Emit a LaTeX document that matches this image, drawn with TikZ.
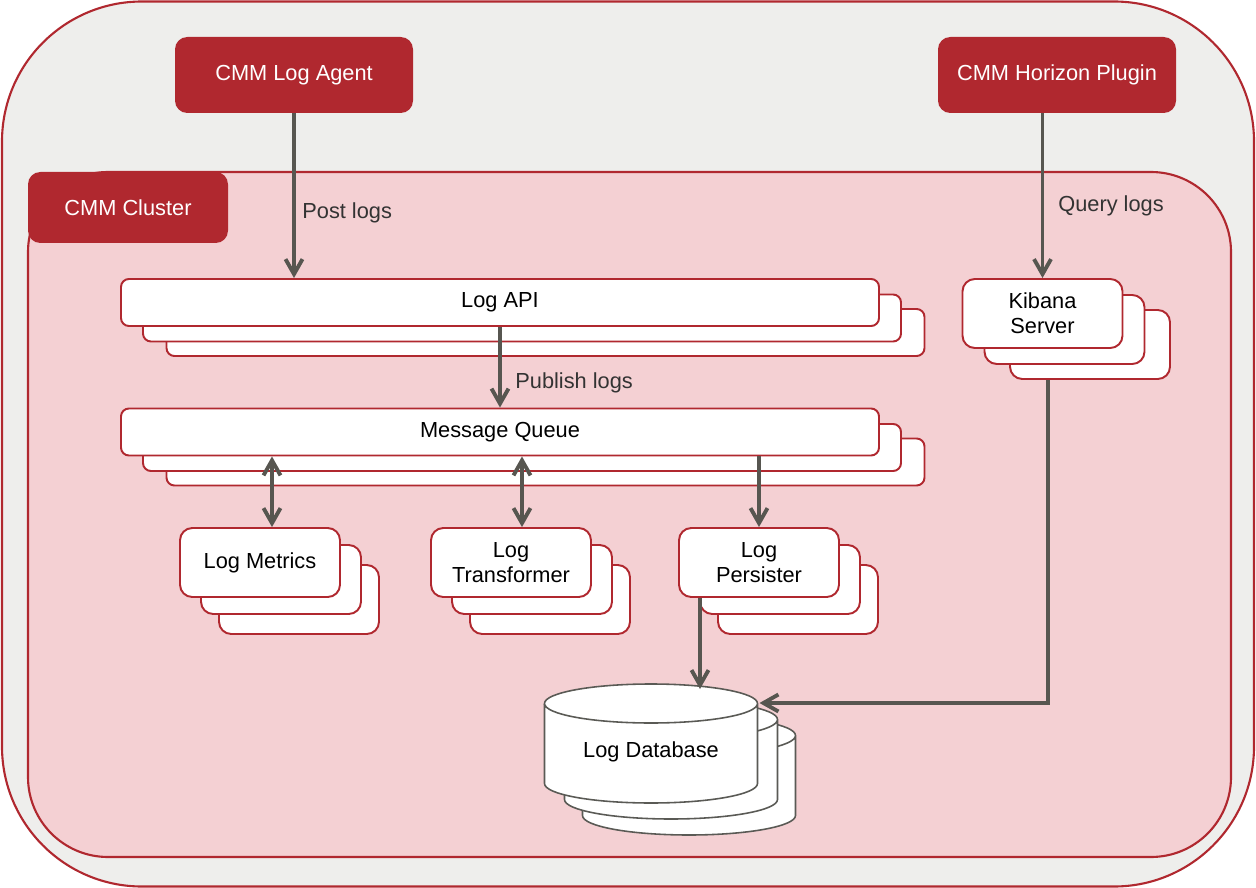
\documentclass[tikz,border=0pt]{standalone}
\usepackage{fontspec}
\setmainfont{Liberation Sans}
\usetikzlibrary{positioning,arrows.meta,calc}

\begin{document}
\begin{tikzpicture}[
    font=\fontsize{12.4}{14}\selectfont,
    container/.style={
        rectangle,
        draw=cmmred,
        line width=1.2pt
    },
    redlabel/.style={
        rectangle,
        rounded corners=7pt,
        fill=cmmred,
        text=white,
        align=center,
        minimum width=4.76cm,
        minimum height=1.52cm
    },
    stackbox/.style={
        rectangle,
        rounded corners=#1,
        draw=cmmred,
        fill=white,
        line width=1.1pt,
        align=center,
        inner sep=0pt
    },
    wide/.style={minimum width=15.16cm, minimum height=0.94cm},
    small/.style={minimum width=3.2cm, minimum height=1.38cm},
    dbline/.style={
        draw=dbgray,
        fill=white,
        line width=0.9pt
    },
    flow/.style={
        -{Straight Barb[length=3mm, width=3.4mm]},
        line width=2.2pt,
        draw=flowgray
    },
    biflow/.style={
        {Straight Barb[length=3mm, width=3.4mm]}-{Straight Barb[length=3mm, width=3.4mm]},
        line width=2.2pt,
        draw=flowgray
    },
    flowlabel/.style={
        inner sep=0pt,
        text=labelgray
    }
]

\definecolor{cmmred}{RGB}{176,40,47}
\definecolor{outergray}{RGB}{238,238,236}
\definecolor{clusterpink}{RGB}{244,208,211}
\definecolor{flowgray}{RGB}{87,86,80}
\definecolor{labelgray}{RGB}{51,51,51}
\definecolor{dbgray}{RGB}{90,90,85}

\useasboundingbox (0,0) rectangle (25.12,-17.76);

% Containers
\node[container, fill=outergray, rounded corners=2.8cm, minimum width=25.04cm, minimum height=17.7cm] (outer) at (12.56,-8.88) {};
\node[container, fill=clusterpink, rounded corners=1.6cm, minimum width=24.06cm, minimum height=13.7cm] (cluster) at (12.59,-10.29) {};

% Clients and cluster tag
\node[redlabel] (agent) at (5.88,-1.5) {CMM Log Agent};
\node[redlabel] (horizon) at (21.14,-1.5) {CMM Horizon Plugin};
\node[redlabel, minimum width=4cm, minimum height=1.42cm] (clustertag) at (2.56,-4.15) {CMM Cluster};

% API and queue stacks
\foreach \n/\dx/\dy in {3/0.91/-0.6, 2/0.44/-0.31}{
    \node[stackbox=4.5pt, wide] (api\n) at ($(10,-6.05)+(\dx,\dy)$) {};
    \node[stackbox=4.5pt, wide] (mq\n) at ($(10,-8.64)+(\dx,\dy)$) {};
}
\node[stackbox=4.5pt, wide] (api) at (10,-6.05) {Log API};
\node[stackbox=4.5pt, wide] (mq) at (10,-8.64) {Message Queue};

% Kibana stack
\foreach \n/\dx/\dy in {3/0.95/-0.62, 2/0.44/-0.32}
    \node[stackbox=7pt, small] (kibana\n) at ($(20.85,-6.27)+(\dx,\dy)$) {};
\node[stackbox=7pt, small] (kibana) at (20.85,-6.27) {Kibana\\Server};

% Service stacks
\foreach \n/\dx/\dy in {3/0.78/-0.74, 2/0.42/-0.34}{
    \node[stackbox=7pt, small] (metrics\n) at ($(5.2,-11.25)+(\dx,\dy)$) {};
    \node[stackbox=7pt, small] (transformer\n) at ($(10.22,-11.25)+(\dx,\dy)$) {};
    \node[stackbox=7pt, small] (persister\n) at ($(15.18,-11.25)+(\dx,\dy)$) {};
}
\node[stackbox=7pt, small] (metrics) at (5.2,-11.25) {Log Metrics};
\node[stackbox=7pt, small] (transformer) at (10.22,-11.25) {Log\\Transformer};
\node[stackbox=7pt, small] (persister) at (15.18,-11.25) {Log\\Persister};

% Database disks
\foreach \dx/\dy in {0.76/-0.64, 0.4/-0.32, 0/0}
    \filldraw[dbline, shift={(\dx,\dy)}] (10.89,-14.07) -- (10.89,-15.67)
        arc[start angle=180, end angle=360, x radius=2.13cm, y radius=0.39cm]
        -- (15.15,-14.07)
        arc[start angle=0, end angle=180, x radius=2.13cm, y radius=0.39cm] -- cycle
        (10.89,-14.07) arc[start angle=180, end angle=360, x radius=2.13cm, y radius=0.39cm];
\node (db) at (13.02,-15.04) {Log Database};
\coordinate (dbtop) at (14.0,-13.78);
\coordinate (dbright) at (15.19,-14.06);

% Connectors
\draw[flow] (agent) -- (agent |- api.north);
\draw[flow] (horizon.south -| kibana.north) -- (kibana.north);
\draw[flow] (api) -- (mq);
\draw[biflow] ([xshift=0.24cm]metrics.north) -- ([xshift=0.24cm]metrics.north |- mq.south);
\draw[biflow] ([xshift=0.22cm]transformer.north) -- ([xshift=0.22cm]transformer.north |- mq.south);
\draw[flow] (persister.north |- mq.south) -- (persister);
\draw[flow] (persister.south -| dbtop) -- (dbtop);
\draw[flow] ([xshift=-0.84cm]kibana3.south) |- (dbright);

% Connector labels
\node[flowlabel, anchor=west] (postlbl) at (6.04,-4.26) {Post logs};
\node[flowlabel, anchor=west] (querylbl) at (21.16,-4.12) {Query logs};
\node[flowlabel, anchor=west] (publishlbl) at (10.3,-7.66) {Publish logs};

\end{tikzpicture}
\end{document}
